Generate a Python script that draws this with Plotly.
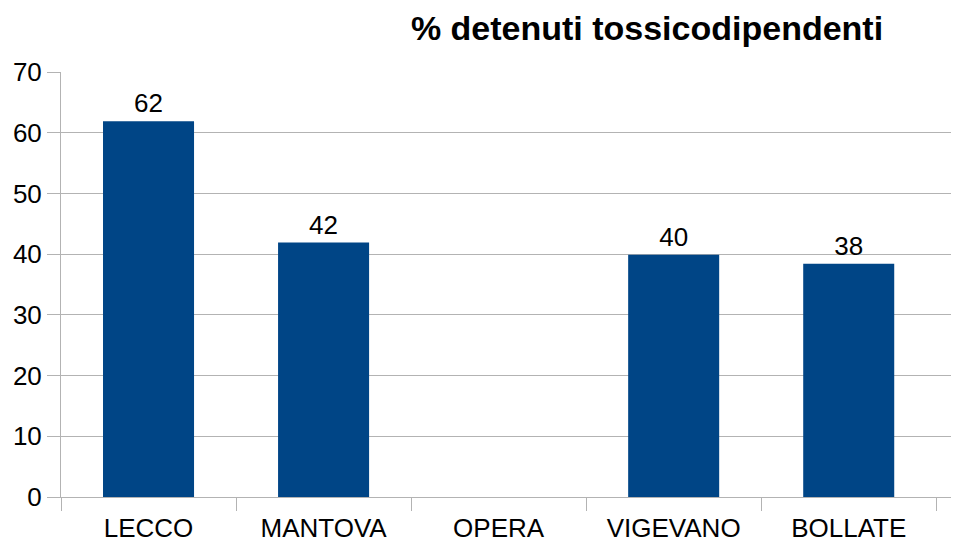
import plotly.graph_objects as go

categories = ["LECCO", "MANTOVA", "OPERA", "VIGEVANO", "BOLLATE"]
values = [61.9, 41.9, None, 39.9, 38.4]
y_ticks = [0, 10, 20, 30, 40, 50, 60, 70]
title_text = "% detenuti tossicodipendenti"

BAR = "#004586"
GRID = "#b3b3b3"
FONT = "Liberation Sans, Arial, sans-serif"
OFF = 8  # page body offset

fig = go.Figure(
    go.Bar(
        x=categories,
        y=values,
        marker=dict(color=BAR, line=dict(width=0)),
        texttemplate="%{y:.0f}",
        textposition="outside",
        textfont=dict(size=26, color="black", family=FONT),
        cliponaxis=False,
        hoverinfo="x+y",
    )
)

fig.update_layout(
    width=959,
    height=546,
    margin=dict(l=61 - OFF, r=OFF, t=72 - OFF, b=49 + OFF, autoexpand=False),
    paper_bgcolor="white",
    plot_bgcolor="white",
    bargap=0.48,
    showlegend=False,
    font=dict(family=FONT, color="black"),
    title=dict(
        text="<b>" + title_text + "</b>",
        font=dict(size=34, color="black", family=FONT),
        x=(647 - OFF) / 959,
        xref="container",
        xanchor="center",
        y=1 - (28 - OFF) / 546,
        yref="container",
        yanchor="middle",
    ),
)

fig.update_xaxes(
    type="category",
    range=[-0.5, 4.63],
    showline=True,
    linecolor=GRID,
    linewidth=1,
    ticks="outside",
    tickson="boundaries",
    ticklen=13,
    tickcolor=GRID,
    ticklabelstandoff=8,
    tickfont=dict(size=26, color="black", family=FONT),
    showgrid=False,
    zeroline=False,
)

fig.update_yaxes(
    range=[0, 70],
    tickvals=y_ticks,
    showline=True,
    linecolor=GRID,
    linewidth=1,
    showgrid=True,
    gridcolor=GRID,
    gridwidth=1,
    ticks="outside",
    ticklen=13,
    tickcolor=GRID,
    tickfont=dict(size=26, color="black", family=FONT),
    zeroline=False,
)

fig.write_html("out.html")
